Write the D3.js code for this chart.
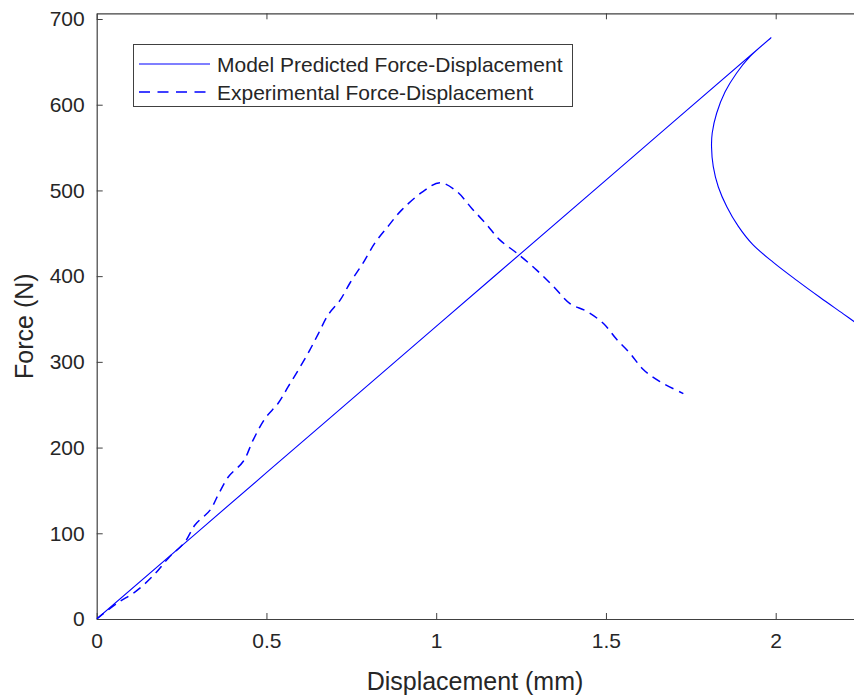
<!DOCTYPE html>
<html lang="en">
<head>
    <meta charset="UTF-8">
    <title>Force-Displacement</title>
    <style>
        body { margin: 0; background: #fff; }
        svg { display: block; font-family: 'Liberation Sans', Arial, sans-serif; }
    </style>
</head>
<body>
    <div id="chart"></div>
    <script src="https://d3js.org/d3.v7.min.js"></script>
    <script>
        // Model curve (mm, N)
        const modelDisp  = [0, 0.5, 1.0, 1.5, 1.986, 1.924, 1.885, 1.851, 1.826, 1.813, 1.811, 1.816, 1.831, 1.856,
                            1.890, 1.932, 1.993, 2.062, 2.131, 2.199, 2.245];
        const modelForce = [0, 170.7, 341.4, 512, 678, 656, 637, 615, 590, 567, 551, 528, 504, 481,
                            458, 437, 416, 395, 375, 356, 343];

        // Experimental curve
        const expDisp  = [0, 0.059, 0.118, 0.172, 0.211, 0.260, 0.290, 0.334, 0.358, 0.388, 0.432, 0.461, 0.496, 0.535,
                          0.564, 0.599, 0.628, 0.653, 0.682, 0.717, 0.746, 0.784, 0.820, 0.858, 0.898, 0.962, 1.011,
                          1.060, 1.105, 1.149, 1.188, 1.237, 1.296, 1.345, 1.394, 1.443, 1.492, 1.532, 1.571, 1.610,
                          1.659, 1.728];
        const expForce = [0, 18, 33, 53, 71, 90, 110, 127, 145, 166, 184, 209, 234, 252,
                          271, 294, 314, 333, 355, 372, 392, 415, 439, 458, 477, 499, 509,
                          499, 479, 460, 442, 427, 407, 388, 368, 359, 345, 326, 310, 291,
                          277, 263];

        const xTicks = [0, 0.5, 1, 1.5, 2];
        const yTicks = [0, 100, 200, 300, 400, 500, 600, 700];
        const seriesNames = ['Model Predicted Force-Displacement', 'Experimental Force-Displacement'];

        const width = 854, height = 698;
        const pLeft = 96.7, pTop = 13.3, pRight = 860, pBottom = 619;
        const axisColor = '#404040';
        const blue = '#0000ff';

        const svg = d3.select('#chart').append('svg')
            .attr('width', width)
            .attr('height', height);

        const x = d3.scaleLinear().domain([0, (pRight - pLeft) / 339.5]).range([pLeft, pRight]);
        const y = d3.scaleLinear().domain([0, 700 * (pBottom - pTop) / 600]).range([pBottom, pTop]);

        svg.append('defs').append('clipPath').attr('id', 'clip')
            .append('rect')
            .attr('x', pLeft).attr('y', pTop)
            .attr('width', pRight - pLeft).attr('height', pBottom - pTop);

        // axes
        const fmt = d => d3.format('')(d);

        const xAxis = svg.append('g')
            .attr('transform', `translate(0,${pBottom})`)
            .call(d3.axisBottom(x).tickValues(xTicks).tickSizeInner(-6).tickSizeOuter(0).tickPadding(14).tickFormat(fmt));
        const xTop = svg.append('g')
            .attr('transform', `translate(0,${pTop})`)
            .call(d3.axisTop(x).tickValues(xTicks).tickSizeInner(-6).tickSizeOuter(0).tickFormat(''));
        const yAxis = svg.append('g')
            .attr('transform', `translate(${pLeft},0)`)
            .call(d3.axisLeft(y).tickValues(yTicks).tickSizeInner(-6).tickSizeOuter(0).tickPadding(12).tickFormat(fmt));

        [xAxis, xTop, yAxis].forEach(g => {
            g.select('.domain').attr('stroke', axisColor).attr('stroke-width', 1.2);
            g.selectAll('.tick line').attr('stroke', axisColor);
            g.selectAll('.tick text')
                .attr('fill', '#262626')
                .style('font-size', '21px')
                .style('font-family', "'Liberation Sans', Arial, sans-serif");
        });
        xAxis.selectAll('.tick text').attr('dy', '0.71em');

        // axis labels
        svg.append('text')
            .attr('x', 475).attr('y', 690)
            .attr('text-anchor', 'middle')
            .attr('fill', '#262626')
            .style('font-size', '25px')
            .text('Displacement (mm)');

        svg.append('text')
            .attr('transform', `translate(33,${(pTop + pBottom) / 2 + 10}) rotate(-90)`)
            .attr('text-anchor', 'middle')
            .attr('fill', '#262626')
            .style('font-size', '25px')
            .text('Force (N)');

        // lines
        const line = d3.line()
            .x(d => x(d[0]))
            .y(d => y(d[1]))
            .curve(d3.curveCatmullRom.alpha(0.5));

        const plot = svg.append('g').attr('clip-path', 'url(#clip)');

        plot.append('path')
            .datum(d3.zip(modelDisp, modelForce))
            .attr('d', line)
            .attr('fill', 'none')
            .attr('stroke', blue)
            .attr('stroke-width', 1.1);

        plot.append('path')
            .datum(d3.zip(expDisp, expForce))
            .attr('d', line)
            .attr('fill', 'none')
            .attr('stroke', blue)
            .attr('stroke-width', 1.5)
            .attr('stroke-dasharray', '9,6');

        // legend
        const legend = svg.append('g');
        legend.append('rect')
            .attr('x', 133.5).attr('y', 44.5)
            .attr('width', 439).attr('height', 62)
            .attr('fill', '#fff')
            .attr('stroke', axisColor)
            .attr('stroke-width', 1);

        seriesNames.forEach((name, i) => {
            const ly = 64 + i * 28;
            legend.append('line')
                .attr('x1', 139).attr('x2', 210)
                .attr('y1', ly).attr('y2', ly)
                .attr('stroke', blue)
                .attr('stroke-width', i === 0 ? 1.1 : 1.3)
                .attr('stroke-dasharray', i === 0 ? null : '11,7.5');
            legend.append('text')
                .attr('x', 217).attr('y', ly + 7.5)
                .attr('fill', '#262626')
                .style('font-size', '21px')
                .text(name);
        });
    </script>
</body>
</html>
